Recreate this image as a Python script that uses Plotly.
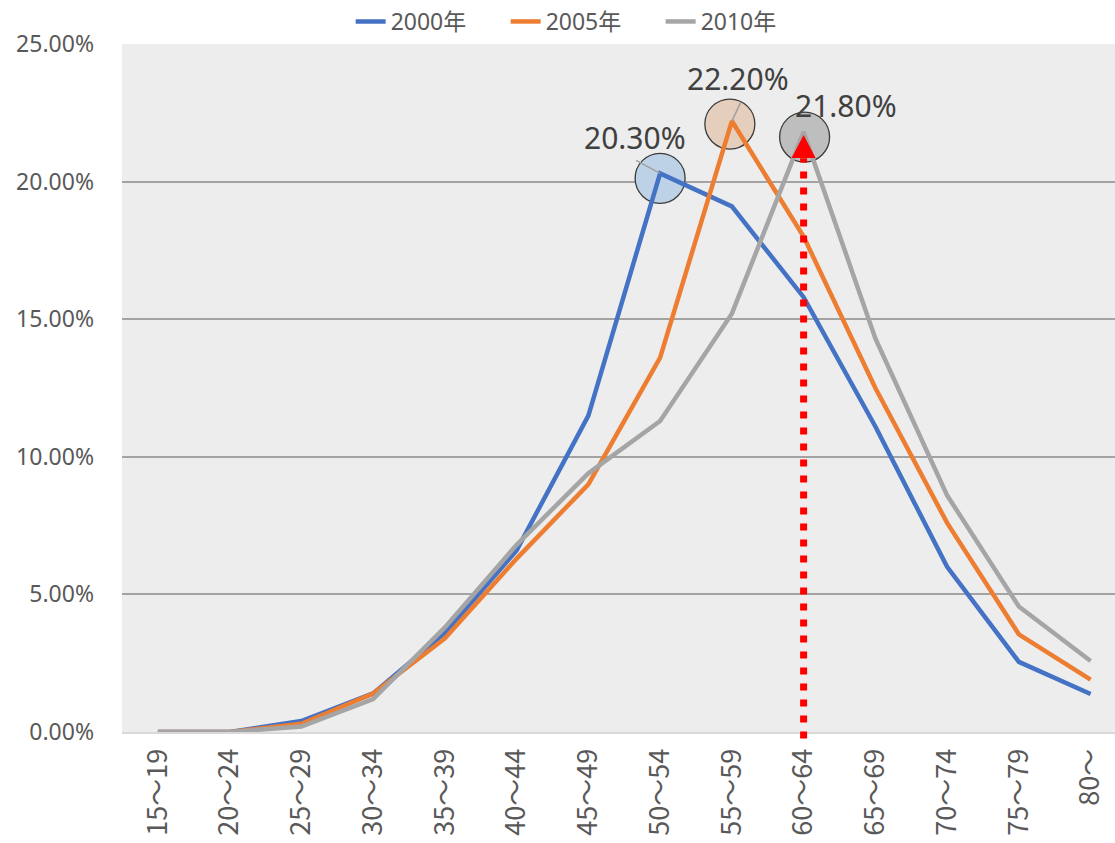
import plotly.graph_objects as go

categories = ["15～19", "20～24", "25～29", "30～34", "35～39", "40～44", "45～49",
              "50～54", "55～59", "60～64", "65～69", "70～74", "75～79", "80～"]
y2000 = [0.0, 0.0, 0.4, 1.4, 3.6, 6.6, 11.5, 20.3, 19.1, 15.8, 11.1, 6.0, 2.55, 1.38]
y2005 = [0.0, 0.0, 0.3, 1.4, 3.4, 6.3, 9.0, 13.6, 22.2, 18.0, 12.5, 7.6, 3.55, 1.9]
y2010 = [0.0, 0.0, 0.2, 1.2, 3.8, 6.8, 9.4, 11.3, 15.2, 21.8, 14.3, 8.6, 4.56, 2.58]
series_names = ["2000年", "2005年", "2010年"]
colors = ["#4472C4", "#ED7D31", "#A5A5A5"]
y_ticks = [0, 5, 10, 15, 20, 25]
y_ticktext = ["0.00%", "5.00%", "10.00%", "15.00%", "20.00%", "25.00%"]

FONT = "Noto Sans, Noto Sans CJK JP, sans-serif"
CJK = "Noto Sans CJK JP, Noto Sans, sans-serif"

fig = go.Figure()
for name, ys, c in zip(series_names, [y2000, y2005, y2010], colors):
    fig.add_trace(go.Scatter(x=categories, y=ys, name=name, mode="lines",
                             line=dict(color=c, width=4.5)))

series = [y2000, y2005, y2010]
circle_fills = ["#bdd2e6", "#e6cebd", "#bebebe"]
circle_off = [(0, -5), (-2, -3), (1, -5)]
label_shift = [(-25, 36), (6, 43), (42, 27)]
shapes = []
annotations = []
for ys, fill, (dx, dy), (lx, ly) in zip(series, circle_fills, circle_off, label_shift):
    i = max(range(len(ys)), key=lambda k: ys[k])
    shapes.append(dict(type="circle", xref="x", yref="y", xsizemode="pixel", ysizemode="pixel",
                       xanchor=i, yanchor=ys[i], x0=dx - 25, x1=dx + 25, y0=dy - 25, y1=dy + 25,
                       fillcolor=fill, line=dict(color="#3a3a3a", width=1.3), layer="between"))
    annotations.append(dict(x=i, y=ys[i], xref="x", yref="y", text=f"{ys[i]:.2f}%",
                            showarrow=False, xshift=lx, yshift=ly,
                            font=dict(family=FONT, size=30, color="#404040")))

# leader lines
i0 = y2000.index(max(y2000))
shapes.append(dict(type="line", xref="x", yref="y", xsizemode="pixel", ysizemode="pixel",
                   xanchor=i0, yanchor=y2000[i0], x0=-24, y0=13, x1=0, y1=0,
                   line=dict(color="#a0a0a0", width=1.5), layer="above"))
i1 = y2005.index(max(y2005))
shapes.append(dict(type="line", xref="x", yref="y", xsizemode="pixel", ysizemode="pixel",
                   xanchor=i1, yanchor=y2005[i1], x0=9, y0=19, x1=0, y1=0,
                   line=dict(color="#a0a0a0", width=1.5), layer="above"))

# red dotted arrow to the 2010 peak
i2 = y2010.index(max(y2010))
shapes.append(dict(type="line", xref="x", yref="paper", x0=i2, x1=i2,
                   y0=-0.0095, y1=(y2010[i2] - 0.95) / 25,
                   line=dict(color="#FF0000", width=7, dash="7px,9px"), layer="above"))
shapes.append(dict(type="path", xref="x", yref="y", xsizemode="pixel", ysizemode="pixel",
                   xanchor=i2, yanchor=y2010[i2], path="M -12,-26 L 12,-26 L 0,-3 Z",
                   fillcolor="#FF0000", line=dict(color="#FF0000", width=0), layer="above"))

fig.update_layout(
    width=1115, height=843,
    margin=dict(l=122, r=0, t=44, b=111, autoexpand=False),
    paper_bgcolor="white", plot_bgcolor="#ededed",
    font=dict(family=FONT, color="#595959"),
    shapes=shapes, annotations=annotations,
    legend=dict(orientation="h", xref="container", yref="container", x=0.523, y=1.0,
                xanchor="center", yanchor="top", font=dict(size=23, color="#595959"),
                entrywidth=110, entrywidthmode="pixels", bgcolor="rgba(0,0,0,0)"),
    showlegend=True,
)
fig.update_xaxes(type="category", range=[-0.5, 13.34], tickangle=-90,
                 tickfont=dict(family=CJK, size=27, color="#595959"), showgrid=False,
                 showline=True, linecolor="#d9d9d9", linewidth=2, ticks="", ticklen=0,
                 zeroline=False, ticklabelstandoff=4)
fig.update_yaxes(range=[0, 25.0], tickvals=y_ticks, ticktext=y_ticktext,
                 tickfont=dict(size=23, color="#595959"), showgrid=True,
                 gridcolor="#a3a3a3", gridwidth=1.5, zeroline=False, ticks="",
                 ticklabelstandoff=27)
fig.write_html("out.html")
